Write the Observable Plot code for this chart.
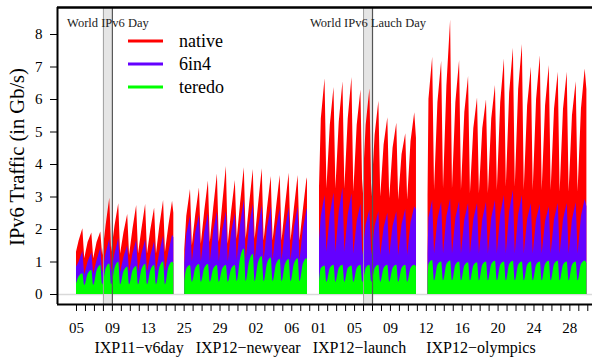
<!DOCTYPE html>
<html><head><meta charset="utf-8">
<script src="https://cdn.jsdelivr.net/npm/d3@7"></script>
<script src="https://cdn.jsdelivr.net/npm/@observablehq/plot@0.6"></script>
<style>body{margin:0;background:#fff;} #chart{position:relative;width:592px;height:362px;}</style>
</head><body><div id="chart"></div>
<script>
// ---- segments (x = day index on the compressed time axis) ----
const segNames = ["IXP11\u2212v6day", "IXP12\u2212newyear", "IXP12\u2212launch", "IXP12\u2212olympics"];
const segFirstDay = [0, 12, 27, 39];
const segDataStart = [0.0, 12.07, 27.09, 39.19];
const segDataEnd = [10.85, 25.75, 37.9, 56.9];

// per day: morning value, evening peak; "Low" = night low after that day's peak
// ---- IXP11-v6day (Jun 2011) ----
const v6dayNativeMid  = [1.65, 1.60, 1.60, 2.10, 2.10, 1.90, 2.00, 2.00, 2.00, 2.10, 2.10];
const v6dayNativePeak = [2.02, 1.89, 1.92, 2.96, 2.79, 2.46, 2.74, 2.77, 2.66, 2.89, 2.87];
const v6dayNativeLow  = [1.10, 1.10, 1.20, 1.30, 1.25, 1.20, 1.25, 1.25, 1.25, 1.30];
const v6day6in4Mid    = [1.00, 1.00, 1.05, 1.25, 1.25, 1.15, 1.25, 1.25, 1.20, 1.30, 1.30];
const v6day6in4Peak   = [1.32, 1.28, 1.42, 1.70, 1.72, 1.50, 1.66, 1.68, 1.62, 1.80, 1.82];
const v6day6in4Low    = [0.60, 0.62, 0.65, 0.70, 0.68, 0.66, 0.68, 0.68, 0.70, 0.70];
const v6dayTeredoMid  = [0.55, 0.62, 0.72, 0.78, 0.80, 0.70, 0.72, 0.76, 0.74, 0.82, 0.82];
const v6dayTeredoPeak = [0.64, 0.74, 0.89, 0.94, 0.99, 0.84, 0.86, 0.92, 0.89, 1.00, 0.99];
const v6dayTeredoLow  = [0.28, 0.28, 0.30, 0.30, 0.30, 0.30, 0.30, 0.30, 0.30, 0.30];
const v6dayStart = [1.30, 0.84, 0.32];
const v6dayEnd   = [2.50, 1.75, 0.95];

// ---- IXP12-newyear (Dec 2011 / Jan 2012) ----
const nyNativeMid  = [2.40, 2.45, 2.55, 2.65, 2.75, 2.55, 2.80, 2.75, 2.75, 2.65, 2.65, 2.70, 2.65, 2.60];
const nyNativePeak = [3.23, 3.28, 3.49, 3.71, 3.94, 3.51, 3.90, 3.85, 3.87, 3.63, 3.66, 3.73, 3.66, 3.59];
const nyNativeLow  = [1.50, 1.55, 1.60, 1.60, 1.55, 1.70, 1.70, 1.70, 1.65, 1.65, 1.65, 1.65, 1.65];
const ny6in4Mid    = [1.85, 1.90, 1.90, 1.95, 1.95, 1.90, 2.15, 2.10, 2.05, 2.05, 2.00, 2.00, 2.05, 2.00];
const ny6in4Peak   = [2.40, 2.45, 2.49, 2.53, 2.55, 2.49, 2.91, 2.77, 2.74, 2.69, 2.64, 2.67, 2.69, 2.64];
const ny6in4Low    = [1.00, 1.00, 1.00, 1.00, 1.00, 1.05, 1.05, 1.05, 1.05, 1.05, 1.05, 1.05, 1.05];
const nyTeredoMid  = [0.78, 0.80, 0.80, 0.78, 0.78, 0.78, 1.10, 1.00, 0.98, 0.95, 0.92, 0.92, 0.94, 0.94];
const nyTeredoPeak = [0.89, 0.92, 0.92, 0.89, 0.89, 0.89, 1.40, 1.23, 1.17, 1.12, 1.08, 1.08, 1.10, 1.10];
const nyTeredoLow  = [0.38, 0.38, 0.38, 0.38, 0.38, 0.40, 0.40, 0.40, 0.40, 0.40, 0.40, 0.40, 0.40];
const nyStart = [1.37, 0.95, 0.40];
const nyEnd   = [3.50, 2.60, 1.05];

// ---- IXP12-launch (Jun 2012) ----
const laNativeMid  = [5.40, 5.20, 5.30, 5.40, 5.20, 5.20, 4.90, 4.60, 4.50, 4.30, 4.70];
const laNativePeak = [6.64, 6.37, 6.55, 6.68, 6.29, 6.33, 5.95, 5.44, 5.27, 4.95, 5.59];
const laNativeLow  = [3.25, 3.25, 3.25, 3.15, 3.10, 3.00, 3.00, 2.95, 2.90, 2.90];
const la6in4Mid    = [2.40, 2.45, 2.55, 2.45, 2.25, 2.15, 2.10, 2.05, 2.10, 2.15, 2.20];
const la6in4Peak   = [3.05, 3.12, 3.28, 3.10, 2.78, 2.60, 2.55, 2.50, 2.55, 2.62, 2.70];
const la6in4Low    = [1.30, 1.30, 1.30, 1.25, 1.20, 1.20, 1.20, 1.20, 1.20, 1.20];
const laTeredoMid  = [0.80, 0.80, 0.80, 0.80, 0.80, 0.80, 0.80, 0.80, 0.80, 0.80, 0.80];
const laTeredoPeak = [0.88, 0.90, 0.90, 0.88, 0.90, 0.90, 0.90, 0.90, 0.90, 0.90, 0.90];
const laTeredoLow  = [0.38, 0.38, 0.38, 0.38, 0.38, 0.38, 0.38, 0.38, 0.38, 0.38];
const laStart = [3.30, 1.66, 0.38];
const laEnd   = [4.80, 2.60, 0.85];

// ---- IXP12-olympics (Aug 2012) ----
const olNativeMid  = [6.00, 5.90, 6.40, 5.90, 5.60, 5.10, 5.10, 5.40, 5.90, 6.20, 6.30, 5.80, 6.00, 5.80, 5.70, 5.70, 5.50, 5.70];
const olNativePeak = [7.30, 7.18, 8.45, 7.20, 6.71, 6.05, 5.99, 6.43, 7.25, 7.58, 7.69, 6.99, 7.35, 7.05, 6.84, 6.84, 6.55, 6.94];
const olNativeLow  = [3.20, 3.25, 3.25, 3.20, 3.10, 3.10, 3.10, 3.20, 3.30, 3.30, 3.20, 3.20, 3.20, 3.20, 3.15, 3.15, 3.15];
const ol6in4Mid    = [2.35, 2.30, 2.40, 2.35, 2.30, 2.30, 2.30, 2.35, 2.45, 2.55, 2.45, 2.30, 2.30, 2.25, 2.30, 2.30, 2.30, 2.40];
const ol6in4Peak   = [2.89, 2.84, 2.94, 2.86, 2.80, 2.80, 2.84, 2.89, 3.05, 3.20, 3.05, 2.80, 2.77, 2.70, 2.80, 2.80, 2.82, 2.92];
const ol6in4Low    = [1.25, 1.25, 1.25, 1.25, 1.25, 1.25, 1.25, 1.25, 1.25, 1.25, 1.25, 1.25, 1.25, 1.25, 1.25, 1.25, 1.25];
const olTeredoMid  = [0.92, 0.90, 0.92, 0.90, 0.88, 0.88, 0.90, 0.92, 0.90, 0.92, 0.90, 0.90, 0.90, 0.92, 0.92, 0.90, 0.90, 0.92];
const olTeredoPeak = [1.05, 1.00, 1.03, 1.00, 0.98, 0.98, 1.00, 1.02, 1.00, 1.02, 1.00, 1.00, 1.00, 1.02, 1.02, 1.00, 1.00, 1.03];
const olTeredoLow  = [0.42, 0.42, 0.42, 0.42, 0.42, 0.42, 0.42, 0.42, 0.42, 0.42, 0.42, 0.42, 0.42, 0.42, 0.42, 0.42, 0.42];
const olStart = [3.05, 1.25, 0.50];
const olEnd   = [6.30, 2.70, 0.95];

// daily timing (hours): morning sample, evening peak, night low
const midHour = 7, peakHour = 17, lowHour = 22;

// ---- events and axis labels ----
const eventLabels = ["World IPv6 Day", "World IPv6 Lauch Day"];
const eventDay = [3, 32];
const tickIndex = [0, 4, 8, 12, 16, 20, 24, 27, 31, 35, 39, 43, 47, 51, 55];
const tickText  = ["05","09","13","25","29","02","06","01","05","09","12","16","20","24","28"];
const yTicks = [0, 1, 2, 3, 4, 5, 6, 7, 8];
const seriesNames = ["native", "6in4", "teredo"];
const seriesColors = ["#ff0000", "#6400ff", "#00ff00"];
const yTitle = "IPv6 Traffic (in Gb/s)";

// ---- build rows ----
const segData = [
  {mid: [v6dayNativeMid, v6day6in4Mid, v6dayTeredoMid], peak: [v6dayNativePeak, v6day6in4Peak, v6dayTeredoPeak], low: [v6dayNativeLow, v6day6in4Low, v6dayTeredoLow], start: v6dayStart, end: v6dayEnd},
  {mid: [nyNativeMid, ny6in4Mid, nyTeredoMid], peak: [nyNativePeak, ny6in4Peak, nyTeredoPeak], low: [nyNativeLow, ny6in4Low, nyTeredoLow], start: nyStart, end: nyEnd},
  {mid: [laNativeMid, la6in4Mid, laTeredoMid], peak: [laNativePeak, la6in4Peak, laTeredoPeak], low: [laNativeLow, la6in4Low, laTeredoLow], start: laStart, end: laEnd},
  {mid: [olNativeMid, ol6in4Mid, olTeredoMid], peak: [olNativePeak, ol6in4Peak, olTeredoPeak], low: [olNativeLow, ol6in4Low, olTeredoLow], start: olStart, end: olEnd}
];
function rowsFor(s) {
  const rows = [];
  segData.forEach((sd, i) => {
    const d0 = segFirstDay[i];
    rows.push({x: segDataStart[i], y: sd.start[s], seg: i});
    sd.peak[s].forEach((p, k) => {
      rows.push({x: d0 + k + midHour / 24, y: sd.mid[s][k], seg: i});
      rows.push({x: d0 + k + peakHour / 24, y: p, seg: i});
      if (k < sd.low[s].length) rows.push({x: d0 + k + lowHour / 24, y: sd.low[s][k], seg: i});
    });
    rows.push({x: segDataEnd[i], y: sd.end[s], seg: i});
  });
  return rows;
}
const series = seriesNames.map((n, s) => rowsFor(s));
const events = eventLabels.map((label, i) => ({label, start: eventDay[i], end: eventDay[i] + 1}));
const tickMap = new Map(tickIndex.map((t, i) => [t, tickText[i]]));
const allTicks = d3.range(0, 58);

const xDomain = [-2.118, 57.525];
const yDomain = [-0.3077, 8.831];
const serif = "'Liberation Serif', 'Times New Roman', serif";
const gap3 = "\u00a0\u00a0\u00a0", gap5 = "\u00a0\u00a0\u00a0\u00a0\u00a0";
const segLabel = segNames[0] + gap3 + segNames[1] + gap3 + segNames[2] + gap5 + segNames[3];

const plot = Plot.plot({
  width: 592, height: 362,
  marginLeft: 57, marginRight: 0, marginTop: 7, marginBottom: 58,
  style: {fontFamily: serif, fontSize: "15px", color: "black", background: "white"},
  x: {domain: xDomain},
  y: {domain: yDomain},
  marks: [
    Plot.rect(events, {x1: "start", x2: "end", fill: "#e5e5e5"}),
    Plot.ruleY([0], {stroke: "#d9d9d9", strokeWidth: 1.5}),
    Plot.areaY(series[0], {x: "x", y1: 0, y2: "y", z: "seg", fill: seriesColors[0], curve: "linear"}),
    Plot.areaY(series[1], {x: "x", y1: 0, y2: "y", z: "seg", fill: seriesColors[1], curve: "linear"}),
    Plot.areaY(series[2], {x: "x", y1: 0, y2: "y", z: "seg", fill: seriesColors[2], curve: "monotone-x"}),
    Plot.ruleX(events, {x: "start", stroke: "#a0a0a0", strokeWidth: 1}),
    Plot.ruleX(events, {x: "end", stroke: "#555", strokeWidth: 1.2}),
    Plot.text(events, {x: d => (d.start + d.end) / 2, text: "label", frameAnchor: "top", dy: 11, fontSize: 12.5, fill: "#222"}),
    Plot.axisY({ticks: yTicks, tickSize: 7, tickPadding: 8, label: null, fontSize: 15}),
    Plot.axisX({ticks: allTicks, tickFormat: i => tickMap.get(i) ?? "", tickSize: 7, tickPadding: 11, label: null, fontSize: 15}),
    Plot.ruleY([yDomain[0]], {stroke: "black", strokeWidth: 2}),
    Plot.ruleY([yDomain[1]], {stroke: "black", strokeWidth: 2.5}),
    Plot.ruleX([xDomain[0]], {stroke: "black", strokeWidth: 2}),
    Plot.text([segLabel], {frameAnchor: "bottom", dx: -10, dy: 48, fontSize: 16})
  ]
});
document.getElementById("chart").appendChild(plot);

const svg = d3.select(plot);
// y-axis title
svg.append("text")
  .attr("transform", "translate(19,157) rotate(-90)")
  .attr("text-anchor", "middle")
  .attr("dominant-baseline", "middle")
  .attr("font-family", serif).attr("font-size", 20.5)
  .attr("fill", "black")
  .text(yTitle);

// legend (inside the plot area, top-left)
const lg = svg.append("g").attr("font-family", serif).attr("font-size", 18).attr("text-anchor", "start");
seriesNames.forEach((name, i) => {
  const yy = 41 + i * 23;
  lg.append("line").attr("x1", 128).attr("x2", 163).attr("y1", yy).attr("y2", yy)
    .attr("stroke", seriesColors[i]).attr("stroke-width", 3);
  lg.append("text").attr("x", 179).attr("y", yy + 6.3).attr("fill", "black").text(name);
});
</script>
</body></html>
